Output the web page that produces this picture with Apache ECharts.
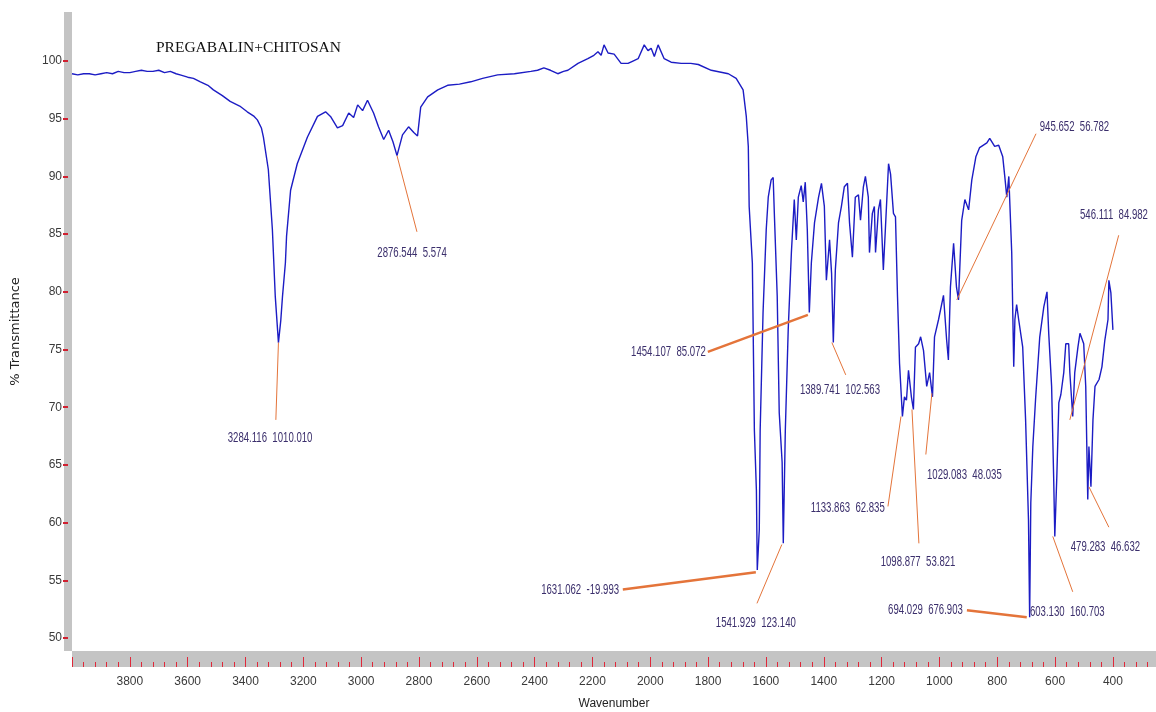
<!DOCTYPE html>
<html>
<head>
<meta charset="utf-8">
<title>PREGABALIN+CHITOSAN</title>
<script src="https://cdn.jsdelivr.net/npm/echarts@6/dist/echarts.min.js"></script>
<style>
  html, body { margin: 0; padding: 0; background: #fff; }
  #chart { width: 1156px; height: 712px; }
</style>
</head>
<body>
<div id="chart"></div>
<script>
// spectrum (wavenumber cm-1 / %T)
const wavenumber = [
  4000, 3980, 3960, 3940, 3920, 3900, 3880, 3860, 3840, 3820, 3800, 3780, 3760, 3740, 3720, 3700,
  3680, 3660, 3640, 3626, 3600, 3580, 3556, 3530, 3511, 3480, 3453, 3420, 3394, 3370, 3359, 3345,
  3338, 3321, 3307, 3297, 3286, 3278, 3272, 3262, 3258, 3244, 3221, 3186, 3151, 3123, 3106, 3082,
  3064, 3043, 3026, 3012, 2995, 2978, 2957, 2940, 2922, 2905, 2890, 2876, 2857, 2836, 2818, 2805,
  2794, 2770, 2735, 2701, 2660, 2621, 2580, 2528, 2470, 2413, 2390, 2368, 2345, 2320, 2300, 2285,
  2250, 2216, 2195, 2181, 2170, 2160, 2146, 2125, 2101, 2077, 2060, 2042, 2021, 2008, 1997, 1986,
  1973, 1952, 1928, 1893, 1860, 1834, 1789, 1730, 1703, 1679, 1668, 1661, 1658, 1647, 1640, 1633,
  1630, 1623, 1620, 1610, 1599, 1592, 1582, 1575, 1571, 1561, 1554, 1544, 1540, 1533, 1523, 1512,
  1502, 1495, 1488, 1478, 1471, 1464, 1457, 1450, 1443, 1432, 1418, 1408, 1398, 1391, 1380, 1373,
  1367, 1360, 1349, 1339, 1329, 1318, 1311, 1301, 1291, 1280, 1273, 1263, 1256, 1246, 1242, 1232,
  1225, 1221, 1211, 1204, 1194, 1187, 1176, 1169, 1159, 1152, 1145, 1138, 1128, 1121, 1114, 1107,
  1097, 1090, 1083, 1072, 1065, 1055, 1044, 1034, 1024, 1017, 1003, 986, 975, 969, 962, 951,
  941, 934, 923, 912, 899, 888, 874, 861, 836, 826, 809, 795, 781, 774, 767, 760,
  757, 750, 743, 739, 733, 726, 712, 702, 692, 688, 684, 677, 667, 653, 639, 628,
  622, 612, 605, 601, 594, 587, 580, 570, 563, 553, 549, 539, 532, 521, 514, 501,
  494, 487, 483, 476, 469, 462, 448, 438, 428, 417, 414, 407, 400
];
const transmittance = [
  98.9, 98.8, 98.9, 98.9, 98.8, 98.9, 99.0, 98.9, 99.1, 99.0, 99.0, 99.1, 99.2, 99.1, 99.1, 99.2,
  99.0, 99.1, 98.9, 98.8, 98.6, 98.5, 98.2, 97.9, 97.5, 97.0, 96.5, 96.1, 95.6, 95.2, 94.9, 94.2,
  93.4, 90.6, 85.4, 79.6, 75.6, 77.5, 79.6, 82.5, 84.8, 88.8, 91.1, 93.4, 95.2, 95.6, 95.2, 94.2,
  94.4, 95.5, 95.1, 96.2, 95.7, 96.6, 95.5, 94.3, 93.2, 94.0, 93.0, 91.8, 93.6, 94.3, 93.8, 93.5,
  96.0, 96.9, 97.5, 97.9, 98.0, 98.2, 98.5, 98.8, 98.9, 99.1, 99.2, 99.4, 99.2, 98.9, 99.1, 99.2,
  99.8, 100.2, 100.5, 100.8, 100.5, 101.4, 100.7, 100.6, 99.8, 99.8, 100.0, 100.2, 101.4, 100.9, 101.1, 100.4,
  101.4, 100.2, 99.9, 99.8, 99.8, 99.7, 99.2, 98.9, 98.5, 97.5, 95.2, 92.6, 87.4, 82.5, 68.0, 62.8,
  55.9, 59.4, 68.0, 78.2, 85.4, 88.2, 89.7, 89.9, 86.8, 79.6, 69.5, 65.2, 58.2, 68.0, 76.7, 83.4,
  88.0, 84.5, 88.2, 89.2, 87.8, 89.5, 85.4, 78.2, 82.5, 86.0, 88.2, 89.4, 87.4, 81.0, 84.5, 81.6,
  75.6, 81.9, 86.0, 87.4, 89.1, 89.4, 86.0, 83.0, 88.2, 88.4, 86.2, 89.1, 90.0, 88.2, 83.4, 86.8,
  87.4, 83.4, 87.1, 88.0, 81.9, 85.4, 91.1, 90.2, 86.8, 86.5, 79.6, 73.8, 69.2, 70.9, 70.6, 73.2,
  70.9, 69.8, 75.2, 75.5, 76.1, 74.9, 71.8, 73.0, 70.9, 76.1, 77.6, 79.7, 75.8, 74.1, 80.4, 84.2,
  80.4, 79.3, 86.2, 88.0, 87.1, 89.7, 91.7, 92.5, 92.9, 93.3, 92.6, 92.7, 91.7, 90.0, 88.2, 90.0,
  88.0, 83.4, 73.5, 77.6, 78.9, 77.6, 75.2, 68.9, 60.2, 51.8, 61.7, 66.6, 70.9, 76.1, 78.7, 80.0,
  76.4, 71.8, 64.0, 58.8, 64.0, 70.4, 71.1, 73.0, 75.5, 75.5, 73.0, 69.2, 73.0, 75.2, 76.4, 75.5,
  71.8, 62.0, 66.6, 63.1, 68.9, 71.8, 72.4, 73.5, 75.8, 77.6, 81.0, 79.9, 76.7
];

// tick labels
const xMajorTicks = [4000, 3800, 3600, 3400, 3200, 3000, 2800, 2600, 2400, 2200, 2000, 1800, 1600, 1400, 1200, 1000, 800, 600, 400];
const xLabels = [3800, 3600, 3400, 3200, 3000, 2800, 2600, 2400, 2200, 2000, 1800, 1600, 1400, 1200, 1000, 800, 600, 400];
const yTicks = [50, 55, 60, 65, 70, 75, 80, 85, 90, 95, 100];

// peak annotations (text, peak point, leader end, label anchor) in data units
const annoText = [
  '3284.116  1010.010', '2876.544  5.574', '1454.107  85.072', '1389.741  102.563',
  '1133.863  62.835', '1098.877  53.821', '1029.083  48.035', '945.652  56.782',
  '694.029  676.903', '603.130  160.703', '479.283  46.632', '546.111  84.982',
  '1631.062  -19.993', '1541.929  123.140'
];
const annoPeak = [
  [3286, 75.6], [2876, 91.8], [1455, 78.0], [1372, 75.6],
  [1133, 69.2], [1095, 69.8], [1026, 71.2], [940, 79.3],
  [698, 51.8], [608, 58.8], [483, 63.1], [549, 68.9],
  [1635, 55.7], [1545, 58.1]
];
const annoEnd = [
  [3295, 68.9], [2807, 85.2], [1801, 74.8], [1324, 72.8],
  [1178, 61.4], [1071, 58.2], [1047, 65.9], [666, 93.7],
  [905, 52.4], [539, 54.0], [414, 59.6], [380, 84.9],
  [2095, 54.2], [1631, 53.0]
];
const annoLabelAt = [
  [3315, 67.3], [2824, 83.4], [1808, 74.8], [1344, 71.5],
  [1189, 61.3], [1074, 56.6], [1043, 64.1], [653, 94.3],
  [919, 52.4], [687, 52.3], [546, 57.9], [514, 86.7],
  [2108, 54.2], [1635, 51.3]
];
const annoAlign = ['center', 'center', 'right', 'center', 'right', 'center', 'left', 'left',
  'right', 'left', 'left', 'left', 'right', 'center'];
const thickLeaders = [2, 8, 12];

const tickFont = "'Liberation Sans', Arial, sans-serif";

// minor ticks every 40 between the major ones
let xMinorTicks = [];
for (let w = 280; w < 4000; w += 40) {
  if (w % 200 !== 0) xMinorTicks.push(w);
}

const X_MIN = 251, X_MAX = 4000;

const chart = echarts.init(document.getElementById('chart'));
const option = {
  animation: false,
  backgroundColor: '#fff',
  title: {
    text: 'PREGABALIN+CHITOSAN',
    left: 151,
    top: 35,
    textStyle: { fontFamily: "'Liberation Serif', 'DejaVu Serif', serif", fontSize: 15.5, fontWeight: 'normal', color: '#111' }
  },
  grid: { left: 72, right: 0, top: 12, bottom: 61, outerBoundsMode: 'none', containLabel: false },
  xAxis: [
    {
      // grey bar
      type: 'value', min: X_MIN, max: X_MAX, inverse: true, position: 'bottom', offset: 8,
      axisLine: { show: true, lineStyle: { color: '#c4c4c4', width: 16, cap: 'butt' } },
      axisTick: { show: false }, axisLabel: { show: false }, splitLine: { show: false }
    },
    {
      // major ticks + labels
      type: 'value', min: X_MIN, max: X_MAX, inverse: true, position: 'bottom', offset: 16,
      axisLine: { show: false },
      axisTick: { show: true, inside: true, length: 10, customValues: xMajorTicks, lineStyle: { color: '#e0283a', width: 1 } },
      axisLabel: { customValues: xLabels, formatter: v => String(v), margin: 9, color: '#3a3a3a', fontSize: 12, fontFamily: tickFont },
      splitLine: { show: false },
      name: 'Wavenumber', nameLocation: 'middle', nameGap: 31,
      nameTextStyle: { color: '#222', fontSize: 12, fontFamily: tickFont }
    },
    {
      // minor ticks
      type: 'value', min: X_MIN, max: X_MAX, inverse: true, position: 'bottom', offset: 16,
      axisLine: { show: false },
      axisTick: { show: true, inside: true, length: 5, customValues: xMinorTicks, lineStyle: { color: '#e0283a', width: 1 } },
      axisLabel: { show: false }, splitLine: { show: false }
    }
  ],
  yAxis: {
    type: 'value', min: 48.87, max: 104.25, offset: 4,
    axisLine: { show: true, lineStyle: { color: '#c4c4c4', width: 8, cap: 'butt' } },
    axisTick: { show: true, length: 5, customValues: yTicks, lineStyle: { color: '#d02030', width: 2 } },
    axisLabel: { customValues: yTicks, formatter: v => String(v), margin: 6, color: '#3a3a3a', fontSize: 12, fontFamily: tickFont },
    splitLine: { show: false },
    name: '% Transmittance', nameLocation: 'middle', nameGap: 46,
    nameTextStyle: { color: '#222', fontSize: 13, fontFamily: "'DejaVu Sans', sans-serif" }
  },
  series: [
    {
      type: 'line',
      xAxisIndex: 0,
      data: wavenumber.map((w, i) => [w, transmittance[i]]),
      showSymbol: false,
      lineStyle: { color: '#1c1cc4', width: 1.4 },
      itemStyle: { color: '#1c1cc4' },
      clip: true,
      z: 3
    },
    {
      type: 'lines',
      coordinateSystem: 'cartesian2d',
      xAxisIndex: 0,
      silent: true,
      lineStyle: { color: '#e4743a', width: 1, opacity: 1 },
      data: annoText.map((t, i) => ({
        coords: [annoPeak[i], annoEnd[i]],
        lineStyle: { width: thickLeaders.includes(i) ? 2.5 : 1 }
      })),
      z: 4
    },
    {
      // peak labels, squeezed sideways like the instrument printout
      type: 'custom',
      xAxisIndex: 0,
      silent: true,
      clip: false,
      data: annoLabelAt.map((p, i) => [p[0], p[1], i]),
      renderItem: (params, api) => {
        const pt = api.coord([api.value(0), api.value(1)]);
        const i = api.value(2);
        return {
          type: 'text',
          x: pt[0],
          y: pt[1],
          scaleX: 0.64,
          style: {
            text: annoText[i],
            align: annoAlign[i],
            verticalAlign: 'middle',
            font: "15px 'Liberation Sans', Arial, sans-serif",
            fill: '#3b2f6c'
          }
        };
      },
      z: 5
    }
  ]
};
chart.setOption(option);
</script>
</body>
</html>
